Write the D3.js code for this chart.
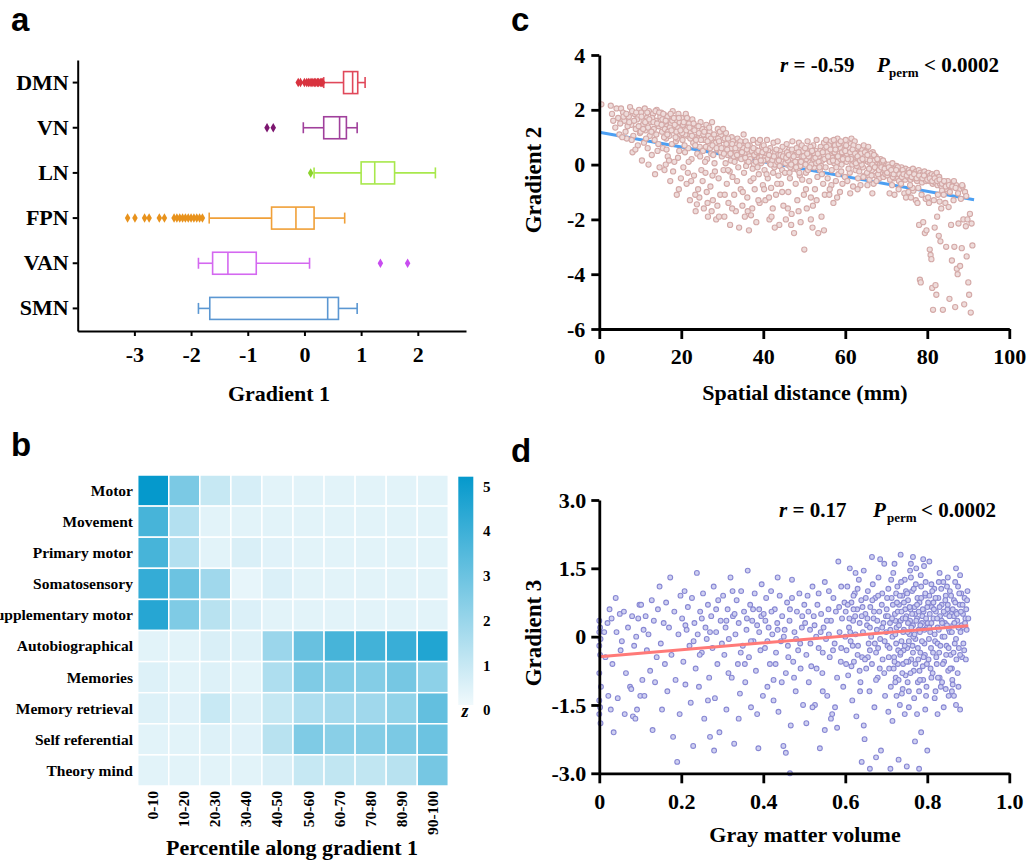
<!DOCTYPE html>
<html lang="en">
<head>
    <meta charset="UTF-8">
    <title>gradients figure</title>
    <script type="text/javascript" src="https://d3js.org/d3.v7.min.js"></script>
    <style>
        body { margin: 0; background: #fff; }
    </style>
</head>
<body>
<svg class="fig"></svg>

<script type="text/javascript">

    const width = 1033;
    const height = 863;
    const SERIF = "'Liberation Serif', 'Times New Roman', serif";
    const SANS = "'Liberation Sans', Arial, sans-serif";

    // ---- panel a : box plots of gradient 1 per network ----
    const networks = ["DMN", "VN", "LN", "FPN", "VAN", "SMN"];
    const whiskerLow = [0.34, -0.02, 0.17, -1.68, -1.87, -1.87];
    const quart1 = [0.69, 0.34, 1.0, -0.58, -1.62, -1.67];
    const medians = [0.85, 0.62, 1.24, -0.15, -1.35, 0.41];
    const quart3 = [0.94, 0.74, 1.59, 0.17, -0.85, 0.6];
    const whiskerHigh = [1.07, 0.93, 2.31, 0.71, 0.09, 0.93];
    const outliers = [
        [-0.11, -0.07, 0.0, 0.04, 0.07, 0.1, 0.13, 0.15, 0.18, 0.2, 0.23, 0.25, 0.28, 0.3, 0.32],
        [-0.66, -0.55],
        [0.11],
        [-3.12, -2.99, -2.82, -2.74, -2.56, -2.47, -2.3, -2.25, -2.2, -2.15, -2.1, -2.05, -2.0, -1.95, -1.9, -1.85, -1.8],
        [1.34, 1.82],
        []
    ];
    const gradTicks = [-3, -2, -1, 0, 1, 2];
    const netColors = ["#e0485a", "#a0409c", "#a8e84c", "#f0a038", "#d468f0", "#5b97d2"];
    const outColors = ["#d8333f", "#7c1670", "#8cd42c", "#e8921c", "#c84cf0", "#5b97d2"];

    // ---- panel b : heatmap of z-values ----
    const tasks = ["Motor", "Movement", "Primary motor", "Somatosensory", "Supplementary motor",
        "Autobiographical", "Memories", "Memory retrieval", "Self referential", "Theory mind"];
    const percentiles = ["0-10", "10-20", "20-30", "30-40", "40-50", "50-60", "60-70", "70-80", "80-90", "90-100"];
    const zValues = [
        [5.0, 2.5, 0.9, 0.55, 0.3, 0.3, 0.3, 0.3, 0.3, 0.3],
        [3.6, 1.3, 0.3, 0.3, 0.3, 0.3, 0.3, 0.3, 0.3, 0.3],
        [3.6, 1.3, 0.3, 0.5, 0.35, 0.3, 0.3, 0.3, 0.3, 0.3],
        [4.0, 2.8, 1.7, 0.2, 0.45, 0.3, 0.3, 0.3, 0.3, 0.3],
        [4.3, 2.4, 1.2, 0.45, 0.3, 0.3, 0.3, 0.3, 0.3, 0.3],
        [0.3, 0.3, 0.5, 0.4, 1.8, 2.9, 3.6, 3.7, 3.9, 4.4],
        [0.4, 0.3, 0.4, 0.3, 1.4, 2.4, 2.3, 2.3, 2.6, 2.1],
        [0.4, 0.35, 0.85, 0.4, 0.9, 1.4, 1.6, 1.7, 2.0, 3.0],
        [0.3, 0.3, 0.4, 0.35, 1.2, 2.4, 2.2, 2.3, 2.5, 2.8],
        [0.3, 0.3, 0.3, 0.3, 0.5, 0.9, 1.0, 1.0, 1.2, 2.6]
    ];
    const zTicks = [0, 1, 2, 3, 4, 5];

    // ---- panel c : gradient 2 vs spatial distance ----
    const distTicks = [0, 20, 40, 60, 80, 100];
    const grad2Ticks = [-6, -4, -2, 0, 2, 4];
    const fitC = [[0, 1.18], [91.4, -1.28]];
    const pointsC = [
        [0.5,2.2],[2.8,2.15],[3.1,1.85],[3.4,1.6],[4.2,2.05],[4.6,1.7],[4.9,1.1],[3.9,1.35],
        [5.3,2.05],[5.8,1.9],[6.1,1.6],[6.4,1.2],[6.7,0.95],[7.2,1.75],[7.5,2.1],[7.8,1.45],[8.1,0.45],[8.3,1.05],[8.6,1.85],[8.9,1.3],[9.2,1.65],[9.4,0.7],[9.7,2.0],[9.9,1.15],[6.9,1.4],[5.6,1.0],[7.9,0.9],[8.8,0.55],
        [10.2,1.9],[10.4,0.15],[10.6,1.45],[10.9,0.8],[11.1,2.05],[11.3,1.25],[11.6,1.7],[11.8,0.6],[12.1,1.95],[12.3,1.05],[12.6,1.55],[12.8,0.35],[13.1,1.85],[13.3,1.3],[13.5,0.9],[13.8,1.6],[14.0,2.0],[14.2,0.5],[14.5,1.4],[14.7,-0.1],[14.9,1.75],[10.8,1.6],[11.9,1.35],[12.9,1.7],[13.9,1.1],[14.4,0.75],[12.0,0.0],[13.6,-0.35],[11.4,0.95],[10.1,1.2],
        [15.1,1.9],[15.3,1.2],[15.5,0.6],[15.7,1.55],[15.9,-0.2],[16.1,1.8],[16.3,0.95],[16.5,1.4],[16.7,0.3],[16.9,1.7],[17.1,1.05],[17.3,-0.6],[17.5,1.5],[17.7,0.75],[17.9,1.95],[18.1,1.25],[18.3,0.1],[18.5,1.6],[18.7,0.85],[18.9,-1.1],[19.1,1.35],[19.3,1.85],[19.5,0.5],[19.7,1.1],[19.9,-0.5],[15.4,1.65],[16.0,1.3],[16.6,1.75],[17.2,1.35],[17.8,1.6],[18.4,1.45],[19.0,0.95],[19.6,1.55],[16.4,0.55],[18.0,-0.25],[17.0,0.15],[15.8,1.0],[19.2,0.25],[16.8,1.2],[18.8,1.2],
        [20.1,1.7],[20.3,0.9],[20.5,-0.1],[20.7,1.3],[20.9,0.45],[21.1,1.85],[21.3,-0.7],[21.5,1.05],[21.7,0.6],[21.9,1.5],[22.1,-1.3],[22.3,1.2],[22.5,0.2],[22.7,1.65],[22.9,0.8],[23.1,-0.4],[23.3,1.0],[23.5,-1.7],[23.7,1.4],[23.9,0.4],[24.1,-0.9],[24.3,1.15],[24.5,0.65],[24.7,1.55],[24.9,-0.2],[20.4,1.45],[21.0,1.1],[21.6,1.35],[22.2,0.95],[22.8,1.3],[23.4,0.7],[24.0,0.95],[24.6,0.3],[20.8,0.7],[22.4,-0.6],[23.8,-1.45],[21.8,0.1],[23.0,1.5],[24.4,-1.2],[20.2,1.15],
        [25.1,1.3],[25.3,0.5],[25.5,-1.6],[25.7,0.9],[25.9,-0.3],[26.1,1.45],[26.3,0.2],[26.5,-1.9],[26.7,0.75],[26.9,1.2],[27.1,-0.8],[27.3,0.4],[27.5,1.55],[27.7,-1.3],[27.9,0.85],[28.1,0.05],[28.3,1.0],[28.5,-2.0],[28.7,0.55],[28.9,1.3],[29.1,-0.5],[29.3,0.7],[29.5,-1.1],[29.7,1.05],[29.9,0.3],[25.4,1.1],[26.0,0.65],[26.6,1.05],[27.2,0.95],[27.8,0.35],[28.4,0.8],[29.0,0.95],[29.6,0.45],[26.2,-1.0],[27.4,-1.7],[28.8,-1.5],[25.8,0.1],[29.4,1.2],[28.2,-0.25],[27.0,0.6],
        [30.1,0.9],[30.3,-0.2],[30.5,-1.9],[30.7,0.6],[30.9,1.15],[31.1,-0.7],[31.3,0.35],[31.5,-1.4],[31.7,0.8],[31.9,-2.2],[32.1,0.15],[32.3,1.0],[32.5,-0.45],[32.7,0.55],[32.9,-1.1],[33.1,0.75],[33.3,-1.7],[33.5,0.25],[33.7,0.95],[33.9,-0.1],[34.1,-2.3],[34.3,0.5],[34.5,-0.9],[34.7,0.7],[34.9,-1.5],[30.4,0.4],[31.0,0.75],[31.6,0.5],[32.2,0.6],[32.8,0.3],[33.4,0.45],[34.0,0.3],[34.6,0.2],[30.8,0.05],[31.8,-0.25],[33.0,0.1],[34.4,0.85],[32.6,0.85],[30.2,1.3],[33.8,0.6],
        [35.1,0.6],[35.3,-0.3],[35.5,-1.9],[35.7,0.85],[35.9,0.15],[36.1,-1.2],[36.3,0.45],[36.5,-2.4],[36.7,0.7],[36.9,-0.6],[37.1,0.3],[37.3,-1.6],[37.5,0.9],[37.7,0.0],[37.9,-0.9],[38.1,0.55],[38.3,-2.1],[38.5,0.2],[38.7,0.8],[38.9,-0.35],[39.1,-1.4],[39.3,0.4],[39.5,0.05],[39.7,0.65],[39.9,-0.75],[35.4,0.4],[36.0,0.55],[36.6,0.3],[37.2,0.5],[37.8,0.35],[38.4,0.45],[39.0,0.25],[39.6,0.3],[35.8,-0.05],[37.4,-0.15],[38.6,-0.1],[36.8,0.2],[39.2,0.9],[35.2,1.1],[37.0,-1.85],
        [40.1,0.7],[40.3,-0.2],[40.5,-1.3],[40.7,0.4],[40.9,0.9],[41.1,-0.5],[41.3,0.15],[41.5,-2.0],[41.7,0.6],[41.9,-0.85],[42.1,0.3],[42.3,-1.6],[42.5,0.8],[42.7,-0.1],[42.9,0.45],[43.1,-1.1],[43.3,0.2],[43.5,0.85],[43.7,-0.4],[43.9,-2.2],[44.1,0.5],[44.3,-0.7],[44.5,0.1],[44.7,0.65],[44.9,-1.5],[40.4,0.25],[41.0,0.2],[41.6,0.05],[42.2,0.15],[42.8,0.0],[43.4,0.1],[44.0,-0.05],[44.6,-0.2],[40.8,-0.35],[42.4,-0.3],[43.6,0.35],[44.2,0.35],[41.2,0.5],[42.0,-1.9],[40.0,0.15],
        [45.1,0.4],[45.3,-0.3],[45.5,-2.0],[45.7,0.75],[45.9,0.0],[46.1,-1.0],[46.3,0.55],[46.5,-0.5],[46.7,0.2],[46.9,-1.8],[47.1,0.85],[47.3,-0.15],[47.5,-2.5],[47.7,0.35],[47.9,-0.7],[48.1,0.6],[48.3,-1.3],[48.5,0.1],[48.7,0.8],[48.9,-0.4],[49.1,-2.1],[49.3,0.3],[49.5,-0.55],[49.7,0.5],[49.9,-1.1],[45.4,0.05],[46.0,0.15],[46.6,-0.1],[47.2,0.05],[47.8,0.1],[48.4,-0.2],[49.0,-0.05],[49.6,0.15],[45.8,0.45],[47.0,0.55],[48.2,0.35],[49.4,0.7],[46.4,-0.3],[48.8,-0.3],[50.0,-3.1],
        [50.2,0.6],[50.4,-0.3],[50.6,-1.6],[50.8,0.85],[51.0,0.1],[51.2,-0.6],[51.4,0.45],[51.6,-1.2],[51.8,0.25],[52.0,-2.3],[52.2,0.7],[52.4,-0.1],[52.6,-0.9],[52.8,0.5],[53.0,0.9],[53.2,-0.45],[53.4,-2.5],[53.6,0.3],[53.8,-0.2],[54.0,0.65],[54.2,-1.9],[54.4,0.15],[54.6,-0.7],[54.8,0.8],[55.0,-1.1],[50.5,0.2],[51.1,0.3],[51.7,0.0],[52.3,0.2],[52.9,0.05],[53.5,0.1],[54.1,-0.05],[54.7,0.35],[50.9,-0.2],[52.5,0.4],[53.9,0.5],[51.5,0.65],[54.3,-0.35],[55.0,0.55],[52.1,-1.5],
        [55.3,0.9],[55.5,0.2],[55.7,-0.5],[55.9,0.6],[56.1,-1.1],[56.3,0.35],[56.5,0.85],[56.7,-0.2],[56.9,0.5],[57.1,-1.4],[57.3,0.05],[57.5,0.7],[57.7,-0.6],[57.9,0.3],[58.1,0.95],[58.3,-0.35],[58.5,0.15],[58.7,-1.0],[58.9,0.6],[59.1,0.0],[59.3,-0.7],[59.5,0.8],[59.7,0.25],[59.9,-0.45],[55.6,0.45],[56.2,0.1],[56.8,0.25],[57.4,0.45],[58.0,0.1],[58.6,0.4],[59.2,0.45],[59.8,0.55],[56.0,0.7],[57.2,0.9],[58.4,0.75],[55.2,-0.1],[57.8,-0.1],[59.0,-0.25],[56.6,-0.75],[58.8,0.2],
        [60.1,0.9],[60.3,0.1],[60.5,-0.6],[60.7,0.55],[60.9,0.3],[61.1,-0.3],[61.3,0.75],[61.5,0.95],[61.7,0.0],[61.9,-0.8],[62.1,0.45],[62.3,0.85],[62.5,-0.2],[62.7,0.2],[62.9,0.6],[63.1,-0.5],[63.3,0.1],[63.5,0.4],[63.7,-0.75],[63.9,0.25],[64.1,0.55],[64.3,-0.1],[64.5,0.7],[64.7,-0.4],[64.9,0.15],[60.4,0.4],[61.0,0.6],[61.6,0.35],[62.2,0.1],[62.8,-0.05],[63.4,-0.25],[64.0,0.0],[64.6,0.3],[60.8,-0.15],[62.0,0.7],[63.2,0.65],[64.4,-0.45],[61.4,0.2],[63.8,0.4],[60.2,0.7],
        [65.1,0.5],[65.3,-0.3],[65.5,0.1],[65.7,0.3],[65.9,-0.55],[66.1,0.05],[66.3,0.25],[66.5,-0.2],[66.7,0.45],[66.9,-0.7],[67.1,0.0],[67.3,0.2],[67.5,-0.4],[67.7,0.1],[67.9,-0.15],[68.1,0.15],[68.3,-0.5],[68.5,0.0],[68.7,-0.3],[68.9,0.1],[69.1,-0.1],[69.3,-0.45],[69.5,0.05],[69.7,-0.25],[69.9,-0.05],[65.6,0.65],[66.2,0.4],[66.8,0.15],[67.4,0.3],[68.0,-0.35],[68.6,0.2],[69.2,0.15],[69.8,-0.35],[66.4,-0.4],[67.6,-0.6],[68.4,-0.1],[65.2,0.2],[67.0,0.35],[69.4,-0.2],[65.8,-0.15],
        [70.1,-0.1],[70.3,-0.4],[70.5,0.0],[70.7,-0.25],[70.9,-0.55],[71.1,-0.1],[71.3,-0.35],[71.5,0.05],[71.7,-0.2],[71.9,-0.5],[72.1,-0.15],[72.3,-0.3],[72.5,-0.05],[72.7,-0.45],[72.9,-0.25],[73.1,-0.6],[73.3,-0.2],[73.5,-0.4],[73.7,-0.1],[73.9,-0.3],[74.1,-0.5],[74.3,-0.25],[74.5,-0.4],[74.7,-0.15],[74.9,-0.35],[70.4,-0.2],[71.0,-0.3],[71.6,-0.45],[72.2,-0.35],[72.8,-0.1],[73.4,-0.3],[74.0,-0.2],[74.6,-0.55],[70.8,-1.05],[72.0,-1.1],[73.0,-0.9],[74.4,-1.05],[71.4,-0.75],[73.6,-0.7],[74.8,-1.2],
        [75.1,-0.3],[75.3,-0.45],[75.5,-0.2],[75.7,-0.35],[75.9,-0.55],[76.1,-0.25],[76.3,-0.4],[76.5,-0.15],[76.7,-0.5],[76.9,-0.3],[77.1,-0.45],[77.3,-0.25],[77.5,-0.6],[77.7,-0.35],[77.9,-0.2],[78.1,-0.5],[78.3,-0.3],[78.5,-0.45],[78.7,-0.65],[78.9,-0.35],[79.1,-0.5],[79.3,-0.25],[79.5,-0.4],[79.7,-0.6],[79.9,-0.35],[75.4,-1.0],[76.0,-1.2],[76.6,-0.95],[77.2,-1.3],[77.6,-1.4],[78.0,-2.2],[78.2,-4.2],[78.4,-4.3],[78.6,-1.1],[79.0,-2.1],[79.4,-2.5],[79.6,-1.25],[76.4,-0.85],[75.8,-0.75],[77.8,-0.85],[79.8,-2.4],
        [80.1,-0.45],[80.3,-0.3],[80.5,-0.6],[80.7,-0.4],[80.9,-0.55],[81.1,-0.35],[81.3,-0.7],[81.5,-0.5],[81.7,-0.4],[81.9,-0.65],[82.1,-0.5],[82.3,-0.3],[82.5,-0.75],[82.7,-0.55],[82.9,-0.45],[83.1,-0.7],[83.3,-0.6],[83.5,-0.8],[80.2,-1.2],[80.4,-1.4],[80.6,-3.1],[80.8,-3.3],[81.0,-3.45],[81.2,-4.5],[81.4,-5.3],[81.6,-1.3],[81.8,-2.3],[82.0,-4.4],[82.2,-4.75],[82.4,-1.9],[82.6,-1.1],[82.8,-2.6],[83.0,-1.35],[83.2,-2.8],[83.4,-1.6],[83.6,-0.95],[83.8,-5.3],[84.0,-1.1],[84.2,-0.65],[84.4,-1.4],[84.6,-3.0],[84.8,-0.9],
        [85.0,-0.6],[85.2,-1.55],[85.4,-4.9],[85.6,-0.8],[85.8,-2.2],[86.0,-3.5],[86.2,-0.7],[86.4,-1.3],[86.6,-3.0],[86.8,-5.2],[87.0,-0.75],[87.2,-3.8],[87.4,-4.0],[87.6,-2.15],[87.8,-0.9],[88.0,-3.7],[88.2,-1.25],[88.4,-3.05],[88.6,-0.8],[88.8,-2.0],[89.0,-5.1],[89.2,-1.0],[89.4,-2.25],[89.6,-3.35],[89.8,-2.0],[90.0,-4.3],[90.2,-4.75],[90.4,-1.8],[90.6,-5.4],[90.8,-2.15],[91.0,-2.95],[85.5,-1.0],[86.5,-0.6],[87.5,-1.05],[88.5,-0.75],[89.5,-1.15]
    ];
    // the dense band along the trend, read as a second pass
    const pointsCband = [
        [5.1,1.5],[5.9,1.75],[6.6,1.85],[7.3,1.55],[8.0,1.95],[8.5,1.6],[9.0,1.9],[9.6,1.4],[10.3,1.75],[10.7,1.3],[11.2,1.55],[11.7,1.9],[12.2,1.65],[12.7,1.2],[13.2,1.55],[13.7,1.95],[14.1,1.5],[14.6,1.9],[15.2,1.45],[15.6,1.85],[16.2,1.6],[16.6,1.1],[17.4,1.85],[17.6,1.25],[18.2,1.7],[18.6,1.0],[19.4,1.7],[19.8,1.25],[20.6,1.55],[21.2,1.25],[21.4,1.7],[22.0,1.35],[22.6,1.05],[23.2,1.25],[23.6,0.9],[24.2,1.4],[24.8,0.9],[25.6,1.2],[26.4,0.85],[26.8,1.35],[27.6,0.7],[28.0,1.1],[28.6,0.6],[29.2,0.85],[29.8,0.6],[30.6,0.95],[31.2,0.55],[31.4,0.95],[32.0,0.4],[32.4,0.75],[33.2,0.6],[33.6,0.35],[34.2,0.7],[34.8,0.45],[35.6,0.25],[36.2,0.7],[36.4,0.1],[37.6,0.6],[38.2,0.1],[38.8,0.5],[39.4,0.15],[39.8,0.45],[40.6,0.55],[41.4,0.35],[41.8,0.0],[42.6,0.3],[43.2,0.55],[43.8,0.15],[44.8,0.3],[45.6,0.25],[46.2,0.35],[46.8,0.0],[47.4,0.3],[48.0,-0.1],[48.6,0.45],[49.2,0.1],[49.8,0.3],[50.3,0.0],[50.7,0.4],[51.3,-0.1],[51.9,0.5],[52.7,0.25],[53.3,0.4],[53.7,-0.1],[54.5,0.45],[54.9,0.2],[55.4,0.65],[55.8,0.3],[56.4,0.55],[57.0,0.15],[57.6,0.55],[58.2,0.3],[58.9,0.85],[59.4,0.2],[60.0,0.5],[60.6,0.2],[61.2,0.45],[61.8,0.55],[62.4,0.4],[62.6,0.05],[63.0,0.3],[63.6,0.15],[64.2,0.2],[64.8,0.45],[65.4,0.35],[66.0,0.15],[66.6,0.0],[67.2,-0.1],[67.8,0.2],[68.2,-0.2],[68.8,-0.1],[69.6,-0.15],[70.2,-0.3],[70.6,-0.1],[71.2,-0.2],[71.8,-0.35],[72.4,-0.2],[73.2,-0.35],[73.8,-0.45],[74.2,-0.35],[75.0,-0.4],[75.6,-0.3],[76.2,-0.45],[76.8,-0.35],[77.4,-0.5],[78.0,-0.4],[78.8,-0.5],[79.2,-0.4],[80.0,-0.55],[80.6,-0.5],[81.2,-0.6],[81.8,-0.5],[82.4,-0.6],[83.0,-0.55],[83.6,-0.7],[84.1,-0.6],[84.5,-0.8],[85.3,-0.75],[86.1,-0.8],[86.9,-0.85],
        [16.2,0.0],[19.4,-0.9],[21.6,-0.3],[23.4,-1.1],[25.2,-0.6],[26.4,-1.4],[27.6,-0.4],[29.2,-1.9],[30.6,-1.1],[31.4,-0.2],[32.4,-1.6],[33.6,-0.6],[35.0,-1.0],[36.2,-1.7],[37.6,-0.5],[38.8,-1.3],[40.2,-0.9],[41.4,-1.2],[42.8,-2.3],[43.4,-0.7],[44.6,-1.0],[46.0,-1.6],[46.8,-2.2],[48.6,-1.7],[50.4,-0.9],[51.6,-2.0],[53.0,-1.3],[54.8,-2.4],[56.2,-0.9],[58.0,-1.2],[61.2,-1.05],[63.0,-0.9],[65.4,-0.75],[66.6,-1.05]
    ];

    // ---- panel d : gradient 3 vs gray matter volume ----
    const gmvTicks = [0, 0.2, 0.4, 0.6, 0.8, 1.0];
    const grad3Ticks = [-3, -1.5, 0, 1.5, 3];
    const fitD = [[0, -0.44], [0.9, 0.24]];
    const pointsD = [
        [0.0,0.35],[0.002,0.2],[0.0,0.1],[0.003,-0.05],[0.0,-0.2],[0.002,-0.4],[0.0,-0.8],[0.004,-1.1],[0.0,-1.4],[0.002,-1.55],[0.0,-1.7],[0.003,-1.9],
        [0.012,0.1],[0.015,-0.45],[0.02,0.3],[0.022,-1.3],[0.025,0.6],[0.028,-1.6],[0.03,0.4],[0.032,-0.6],[0.035,-2.1],[0.04,0.85],[0.042,0.1],[0.045,-1.35],[0.05,0.5],[0.052,-0.3],[0.055,-0.1],[0.06,0.55],[0.062,-1.7],[0.065,-0.8],[0.07,0.2],[0.075,-1.1],[0.078,-1.15],[0.08,0.45],[0.082,-1.75],[0.085,-0.2],[0.088,-1.8],[0.09,0.0],[0.092,-1.6],[0.095,0.4],[0.098,0.7],[0.1,-1.3],
        [0.102,0.7],[0.105,-0.95],[0.108,0.15],[0.11,-1.3],[0.113,0.45],[0.116,-0.3],[0.12,0.05],[0.124,-0.75],[0.128,0.8],[0.13,-2.05],[0.133,0.35],[0.136,-1.0],[0.14,-0.45],[0.143,0.6],[0.147,1.1],[0.15,-0.15],[0.153,-1.6],[0.157,0.3],[0.16,-0.6],[0.163,0.75],[0.166,-1.2],[0.17,0.2],[0.173,1.3],[0.176,-0.4],[0.18,-2.2],[0.183,0.55],[0.186,-0.95],[0.19,-2.75],[0.193,0.05],[0.196,-1.7],[0.198,0.9],
        [0.202,0.4],[0.205,-0.55],[0.208,1.0],[0.21,-1.05],[0.213,0.15],[0.216,0.65],[0.22,-0.2],[0.223,-1.45],[0.226,0.85],[0.229,-2.4],[0.232,0.3],[0.235,-0.7],[0.238,1.4],[0.24,0.05],[0.243,-1.1],[0.246,0.55],[0.25,-0.35],[0.253,0.95],[0.256,-1.8],[0.259,0.2],[0.262,-0.05],[0.265,0.7],[0.268,-0.9],[0.27,-2.2],[0.273,0.45],[0.276,-0.25],[0.279,1.1],[0.282,-1.35],[0.285,0.1],[0.288,-0.6],[0.29,0.8],[0.293,-2.1],[0.296,0.35],[0.299,-0.15],[0.21,0.25],[0.23,-0.1],[0.25,0.4],[0.27,0.1],[0.285,0.6],[0.245,-0.4],[0.265,-1.4],[0.28,-2.5],
        [0.302,0.9],[0.305,-0.4],[0.308,0.2],[0.31,-1.6],[0.313,0.6],[0.316,-0.05],[0.32,1.3],[0.323,-0.9],[0.326,0.45],[0.329,-2.35],[0.332,0.05],[0.335,0.8],[0.338,-0.6],[0.34,0.3],[0.343,-1.25],[0.346,1.0],[0.35,-0.2],[0.353,0.55],[0.356,-1.0],[0.359,0.15],[0.362,1.45],[0.365,-0.45],[0.368,0.7],[0.37,-1.55],[0.373,0.35],[0.376,-0.1],[0.379,0.95],[0.382,-0.75],[0.385,0.25],[0.388,-2.45],[0.39,0.6],[0.393,-0.3],[0.396,1.15],[0.399,-1.3],[0.31,0.35],[0.33,0.5],[0.345,-0.35],[0.36,0.4],[0.375,0.6],[0.39,0.1],[0.315,-0.8],[0.355,-0.6],[0.37,-0.1],[0.385,-1.7],[0.34,-1.8],[0.325,1.0],[0.395,0.45],
        [0.401,0.5],[0.404,-0.25],[0.407,0.85],[0.41,-1.1],[0.413,0.2],[0.416,-0.6],[0.419,1.0],[0.422,0.05],[0.425,-1.4],[0.428,0.6],[0.431,-0.35],[0.434,0.3],[0.437,-1.65],[0.44,0.9],[0.443,-0.1],[0.446,0.45],[0.449,-2.4],[0.452,0.15],[0.455,-0.8],[0.458,0.75],[0.461,-0.45],[0.464,0.35],[0.467,-1.95],[0.47,0.85],[0.473,-0.55],[0.476,0.1],[0.479,-1.2],[0.482,0.55],[0.485,-0.3],[0.488,0.95],[0.491,-0.7],[0.494,0.2],[0.497,-1.5],[0.5,0.7],[0.405,0.35],[0.42,0.55],[0.435,0.15],[0.45,0.0],[0.465,0.6],[0.48,-0.05],[0.495,0.45],[0.41,-0.1],[0.43,-0.6],[0.445,-1.0],[0.46,-0.2],[0.475,-0.9],[0.49,-0.15],[0.455,-2.55],[0.465,-3.0],[0.435,1.3],[0.47,1.25],[0.425,-0.95],
        [0.502,0.3],[0.505,-0.4],[0.508,0.9],[0.511,-1.0],[0.514,0.15],[0.517,-0.65],[0.52,1.1],[0.523,0.45],[0.526,-1.5],[0.529,0.0],[0.532,0.7],[0.535,-0.25],[0.538,-2.45],[0.541,0.5],[0.544,-0.8],[0.547,0.2],[0.55,1.2],[0.553,-0.05],[0.556,-1.3],[0.559,0.6],[0.562,-0.45],[0.565,0.35],[0.568,-1.7],[0.571,0.85],[0.574,-0.15],[0.577,0.55],[0.58,-0.9],[0.583,1.65],[0.586,0.1],[0.589,-0.55],[0.592,0.4],[0.595,-1.1],[0.598,0.75],[0.51,0.55],[0.525,0.25],[0.54,0.1],[0.555,0.35],[0.57,-0.3],[0.585,0.65],[0.6,0.0],[0.515,-0.15],[0.53,-0.7],[0.545,-0.35],[0.56,0.05],[0.575,-1.55],[0.59,-0.25],[0.52,-1.55],[0.55,-2.05],[0.565,-1.8],[0.58,-2.0],[0.535,0.95],[0.56,1.0],[0.59,1.1],[0.505,-1.9],[0.545,-1.2],
        [0.601,0.55],[0.603,-0.3],[0.605,1.1],[0.607,-0.85],[0.609,0.2],[0.611,1.5],[0.613,-0.1],[0.615,0.75],[0.617,-1.4],[0.619,0.35],[0.621,-0.55],[0.623,0.95],[0.625,0.05],[0.627,-1.75],[0.629,0.6],[0.631,-0.2],[0.633,1.25],[0.635,0.3],[0.637,-1.0],[0.639,0.8],[0.641,-0.45],[0.643,0.1],[0.645,1.45],[0.647,-2.25],[0.649,0.5],[0.651,-0.7],[0.653,0.25],[0.655,1.0],[0.657,-0.15],[0.659,-1.2],[0.661,0.65],[0.663,0.0],[0.665,-0.6],[0.667,1.15],[0.669,0.4],[0.671,-1.55],[0.673,0.85],[0.675,-0.35],[0.677,0.15],[0.679,-0.9],[0.681,1.3],[0.683,0.55],[0.685,-0.05],[0.687,-2.5],[0.689,0.7],[0.691,-0.5],[0.693,0.3],[0.695,1.6],[0.697,-1.3],[0.699,0.45],
        [0.61,0.4],[0.62,0.6],[0.63,-0.4],[0.64,0.45],[0.65,0.85],[0.66,0.2],[0.67,0.55],[0.68,-0.25],[0.69,0.95],[0.7,0.1],[0.615,-0.65],[0.635,-0.75],[0.655,-0.45],[0.675,-0.95],[0.695,-0.8],[0.625,1.4],[0.665,1.75],[0.685,1.7],[0.645,-1.95],[0.66,-2.9],[0.675,-2.65],[0.64,-2.75],[0.62,0.9],[0.68,0.9],
        [0.701,0.6],[0.703,-0.2],[0.705,1.05],[0.707,-0.7],[0.709,0.3],[0.711,-1.1],[0.713,0.85],[0.715,0.0],[0.717,1.4],[0.719,-0.45],[0.721,0.5],[0.723,-0.9],[0.725,0.2],[0.727,1.1],[0.729,-0.3],[0.731,0.7],[0.733,-1.5],[0.735,0.35],[0.737,-0.1],[0.739,0.9],[0.741,-0.6],[0.743,0.15],[0.745,1.25],[0.747,-0.85],[0.749,0.45],[0.751,-0.25],[0.753,0.8],[0.755,-1.2],[0.757,0.05],[0.759,0.6],[0.761,-0.5],[0.763,1.0],[0.765,0.25],[0.767,-0.75],[0.769,0.65],[0.771,-0.05],[0.773,1.5],[0.775,0.4],[0.777,-1.0],[0.779,0.15],[0.781,0.75],[0.783,-0.35],[0.785,1.1],[0.787,0.3],[0.789,-0.65],[0.791,0.55],[0.793,-0.15],[0.795,0.9],[0.797,-1.3],[0.799,0.2],
        [0.704,0.45],[0.71,0.15],[0.716,0.7],[0.722,0.05],[0.728,0.55],[0.734,-0.4],[0.74,0.4],[0.746,0.6],[0.752,0.1],[0.758,0.35],[0.764,-0.2],[0.77,0.5],[0.776,0.85],[0.782,0.1],[0.788,0.45],[0.794,-0.4],[0.8,0.65],[0.706,-0.45],[0.718,-0.7],[0.73,-0.95],[0.742,-0.3],[0.754,-0.55],[0.766,0.0],[0.778,-0.5],[0.79,-0.95],[0.712,1.25],[0.724,0.95],[0.736,1.2],[0.748,1.0],[0.76,1.3],[0.772,1.15],[0.784,1.35],[0.796,1.2],
        [0.705,-1.65],[0.715,-1.85],[0.725,-1.3],[0.735,1.8],[0.745,-1.7],[0.755,-1.55],[0.765,1.75],[0.775,-1.7],[0.785,-2.1],[0.795,-1.6],[0.71,-2.9],[0.73,-2.7],[0.75,-2.85],[0.77,-2.3],[0.78,-2.9],[0.72,1.6],[0.76,1.6],[0.79,1.7],[0.78,-1.2],[0.74,-1.15],
        [0.801,0.3],[0.803,-0.5],[0.805,0.9],[0.807,0.1],[0.809,-0.25],[0.811,0.65],[0.813,-0.8],[0.815,0.4],[0.817,1.05],[0.819,-0.1],[0.821,0.55],[0.823,-0.6],[0.825,0.2],[0.827,0.85],[0.829,-0.35],[0.831,0.45],[0.833,-1.1],[0.835,0.7],[0.837,0.0],[0.839,1.2],[0.841,-0.55],[0.843,0.3],[0.845,0.9],[0.847,-0.2],[0.849,0.6],[0.851,-0.75],[0.853,0.15],[0.855,1.0],[0.857,-0.4],[0.859,0.5],[0.861,-0.95],[0.863,0.25],[0.865,0.8],[0.867,-0.15],[0.869,0.55],[0.871,-0.5],[0.873,0.35],[0.875,1.1],[0.877,-0.25],[0.879,0.7],[0.881,0.1],[0.883,0.95],[0.885,-0.45],[0.887,0.5],[0.889,0.2],[0.891,0.85],[0.893,0.4],[0.895,0.6],[0.897,0.8],[0.9,0.4],
        [0.805,0.2],[0.815,0.75],[0.825,-0.15],[0.835,0.35],[0.845,0.5],[0.855,0.1],[0.865,0.45],[0.81,1.15],[0.83,1.4],[0.85,1.3],[0.87,1.5],[0.88,1.35],[0.82,-1.2],[0.84,-1.55],[0.86,-1.2],[0.87,-1.5],[0.88,-1.6],[0.825,-1.7],[0.845,-1.15],[0.865,-1.3],[0.83,-0.9],[0.86,-0.7],[0.89,-0.3],[0.805,1.65],[0.81,-0.9],[0.8,-2.5]
    ];
    // the dense cluster at high gray matter volume, read as a second pass
    const pointsDcluster = [
        [0.722,0.35],[0.724,-0.15],[0.726,0.75],[0.728,-0.6],[0.731,0.25],[0.733,0.9],[0.735,-0.35],[0.737,0.55],[0.739,-0.8],[0.741,0.1],[0.743,0.75],[0.745,-0.2],[0.747,0.4],[0.749,-0.55],[0.751,0.95],[0.753,0.3],[0.755,-0.1],[0.757,0.65],[0.759,-0.8],[0.761,0.2],[0.763,0.5],[0.765,-0.35],[0.767,1.05],[0.769,0.05],[0.771,-0.6],[0.773,0.35],[0.775,0.7],[0.777,-0.25],[0.779,0.55],[0.781,-0.75],[0.783,0.25],[0.785,0.85],[0.787,-0.1],[0.789,0.6],[0.791,-0.45],[0.793,0.15],[0.795,0.95],[0.797,0.4],[0.799,-0.6],[0.802,0.75],[0.804,-0.05],[0.806,0.5],[0.808,-0.7],[0.81,0.3],[0.812,1.0],[0.814,-0.35],[0.816,0.6],[0.818,0.05],[0.82,0.85],[0.822,-0.45],[0.824,0.4],[0.826,-0.9],[0.828,0.15],[0.83,0.65],[0.832,-0.2],[0.834,1.05],[0.836,0.3],[0.838,-0.6],[0.84,0.55],[0.842,0.0],[0.844,0.8],[0.846,-0.4],[0.848,0.25],[0.85,0.7],[0.852,-0.25],[0.854,0.45],[0.856,-0.7],[0.858,0.9],[0.86,0.1],[0.862,0.6],[0.864,-0.35],[0.866,0.3],[0.868,0.75],[0.87,-0.05],[0.872,0.5],[0.874,-0.8],[0.876,0.2],[0.878,0.95],[0.88,-0.4],[0.882,0.55],[0.884,0.25],[0.886,0.7],[0.888,-0.15],[0.892,0.3],[0.894,-0.5],[0.896,0.15],[0.898,1.0],
        [0.602,-0.6],[0.606,0.7],[0.612,0.1],[0.618,-0.2],[0.624,0.45],[0.63,1.05],[0.636,-1.2],[0.642,0.65],[0.648,-0.5],[0.654,0.4],[0.66,-0.3],[0.666,0.8],[0.672,-0.15],[0.678,0.35],[0.684,-0.7],[0.69,0.2],[0.696,-0.1],[0.702,0.85],[0.708,-0.25],[0.714,0.4],[0.72,-0.55],
        [0.738,-1.25],[0.752,-1.0],[0.768,-1.35],[0.782,-0.95],[0.798,-1.1],[0.818,-1.35],[0.836,-1.0],[0.852,-1.3],[0.862,-1.05],[0.876,-1.1],[0.722,-1.0],[0.758,1.45],[0.792,1.55],[0.828,1.2],[0.848,1.1],[0.868,1.2]
    ];

    let svg = d3.select(".fig")
        .attr("width", width)
        .attr("height", height);

    function styleAxis(g, strokeW, fontSize) {
        g.select(".domain").attr("stroke", "#000").attr("stroke-width", strokeW);
        g.selectAll(".tick line").attr("stroke", "#000").attr("stroke-width", strokeW);
        g.selectAll(".tick text")
            .attr("font-family", SERIF)
            .attr("font-weight", "bold")
            .attr("font-size", fontSize)
            .attr("fill", "#000");
    }

    function boldText(parent, x, y, str, size) {
        return parent.append("text")
            .attr("x", x).attr("y", y)
            .attr("font-family", SERIF)
            .attr("font-weight", "bold")
            .attr("font-size", size)
            .attr("fill", "#000")
            .text(str);
    }

    function panelLetter(x, y, s) {
        svg.append("text")
            .attr("x", x).attr("y", y)
            .attr("font-family", SANS)
            .attr("font-weight", "bold")
            .attr("font-size", 33)
            .text(s);
    }

    drawBoxes();
    drawHeatmap();
    drawScatter(pointsC.concat(pointsCband), fitC, {
        xDomain: [0, 100], yDomain: [-6, 4], xRange: [599.3, 1009.3], yRange: [329, 55],
        xTicks: distTicks, yTicks: grad2Ticks, fmtY: d => String(d), fmtX: d => String(d),
        xPad: 9, yPad: 6, r: 2.6,
        xTitle: "Spatial distance (mm)", xTitleY: 400, yTitle: "Gradient 2", yTitleY: 180,
        stroke: "#d4a9a7", fill: "#eedcdb", line: "#4c9ff2", lineOnTop: false,
        stat: "-0.59", statX: [780, 877, 889, 924], statY: 72
    });
    drawScatter(pointsD.concat(pointsDcluster), fitD, {
        xDomain: [0, 1], yDomain: [-3, 3], xRange: [599.3, 1009.3], yRange: [773.3, 500],
        xTicks: gmvTicks, yTicks: grad3Ticks,
        fmtY: d => d === 0 ? "0" : d.toFixed(1), fmtX: d => d === 0 ? "0" : d.toFixed(1),
        xPad: 10, yPad: 5, r: 2.4,
        xTitle: "Gray matter volume", xTitleY: 842, yTitle: "Gradient 3", yTitleY: 633,
        stroke: "#8787d3", fill: "#cfd0f1", line: "#ff7a78", lineOnTop: true,
        stat: "0.17", statX: [779, 873, 887, 921], statY: 517
    });

    panelLetter(11, 31, "a");
    panelLetter(11, 456, "b");
    panelLetter(511, 31, "c");
    panelLetter(511, 462, "d");

    function drawBoxes() {
        let g = svg.append("g");
        let x = d3.scaleLinear().domain([-4, 2.85]).range([77.7, 466]);
        let y = d3.scaleBand().domain(networks).range([60, 331]);

        let xAxis = g.append("g")
            .attr("transform", "translate(0,331)")
            .call(d3.axisBottom(x).tickValues(gradTicks).tickSize(5).tickPadding(10)
                .tickSizeOuter(0).tickFormat(d => String(d)));
        styleAxis(xAxis, 2, 22);

        let yAxis = g.append("g")
            .attr("transform", "translate(77.7,0)")
            .call(d3.axisLeft(y).tickSize(5).tickPadding(4).tickSizeOuter(0));
        styleAxis(yAxis, 2, 22);

        let boxH = 22, capH = 11;
        networks.forEach(function (n, i) {
            let cy = y(n) + y.bandwidth() / 2;
            let col = netColors[i];
            let bg = g.append("g")
                .attr("stroke", col)
                .attr("stroke-width", 1.6)
                .attr("fill", "none");
            bg.append("line").attr("x1", x(whiskerLow[i])).attr("x2", x(quart1[i])).attr("y1", cy).attr("y2", cy);
            bg.append("line").attr("x1", x(quart3[i])).attr("x2", x(whiskerHigh[i])).attr("y1", cy).attr("y2", cy);
            bg.append("line").attr("x1", x(whiskerLow[i])).attr("x2", x(whiskerLow[i]))
                .attr("y1", cy - capH / 2).attr("y2", cy + capH / 2);
            bg.append("line").attr("x1", x(whiskerHigh[i])).attr("x2", x(whiskerHigh[i]))
                .attr("y1", cy - capH / 2).attr("y2", cy + capH / 2);
            bg.append("rect")
                .attr("x", x(quart1[i])).attr("y", cy - boxH / 2)
                .attr("width", x(quart3[i]) - x(quart1[i])).attr("height", boxH)
                .attr("fill", "#fff");
            bg.append("line").attr("x1", x(medians[i])).attr("x2", x(medians[i]))
                .attr("y1", cy - boxH / 2).attr("y2", cy + boxH / 2);

            g.selectAll(null).data(outliers[i]).enter().append("path")
                .attr("d", d3.symbol(d3.symbolDiamond, 26))
                .attr("transform", d => "translate(" + x(d) + "," + cy + ")")
                .attr("fill", outColors[i]);
        });

        g.append("text")
            .attr("x", 279).attr("y", 401)
            .attr("text-anchor", "middle")
            .attr("font-family", SERIF).attr("font-weight", "bold").attr("font-size", 22)
            .text("Gradient 1");
    }

    function drawHeatmap() {
        let g = svg.append("g");
        let x = d3.scaleBand().domain(percentiles).range([137.7, 448.3]);
        let y = d3.scaleBand().domain(tasks).range([475, 786]);
        let color = d3.scaleLinear().domain([0, 5]).range(["#f0f9fc", "#0599cc"]);

        let cells = [];
        zValues.forEach((row, r) => row.forEach((v, c) => cells.push({r: tasks[r], c: percentiles[c], v: v})));

        g.selectAll("rect.cell").data(cells).enter().append("rect")
            .attr("class", "cell")
            .attr("x", d => x(d.c))
            .attr("y", d => y(d.r))
            .attr("width", x.bandwidth())
            .attr("height", y.bandwidth())
            .attr("fill", d => color(d.v))
            .attr("stroke", "#fff")
            .attr("stroke-width", 1.5);

        g.selectAll("text.row").data(tasks).enter().append("text")
            .attr("class", "row")
            .attr("x", 133)
            .attr("y", d => y(d) + y.bandwidth() / 2)
            .attr("dy", "0.35em")
            .attr("text-anchor", "end")
            .attr("font-family", SERIF).attr("font-weight", "bold").attr("font-size", 15.5)
            .text(d => d);

        g.selectAll("text.col").data(percentiles).enter().append("text")
            .attr("class", "col")
            .attr("transform", d => "translate(" + (x(d) + x.bandwidth() / 2 + 5) + ",791) rotate(-90)")
            .attr("text-anchor", "end")
            .attr("font-family", SERIF).attr("font-weight", "bold").attr("font-size", 15.5)
            .text(d => d);

        g.append("text")
            .attr("x", 292).attr("y", 855)
            .attr("text-anchor", "middle")
            .attr("font-family", SERIF).attr("font-weight", "bold").attr("font-size", 22)
            .text("Percentile along gradient 1");

        // colour bar
        let grad = svg.append("defs").append("linearGradient")
            .attr("id", "zbar").attr("x1", 0).attr("y1", 1).attr("x2", 0).attr("y2", 0);
        grad.append("stop").attr("offset", "0%").attr("stop-color", color(0));
        grad.append("stop").attr("offset", "100%").attr("stop-color", color(5));
        g.append("rect")
            .attr("x", 458.3).attr("y", 476.7).attr("width", 15).attr("height", 228.3)
            .attr("fill", "url(#zbar)");

        let zScale = d3.scaleLinear().domain([0, 5]).range([710, 486.5]);
        g.selectAll("text.z").data(zTicks).enter().append("text")
            .attr("class", "z")
            .attr("x", 483)
            .attr("y", d => zScale(d))
            .attr("dy", "0.35em")
            .attr("font-family", SERIF).attr("font-weight", "bold").attr("font-size", 15)
            .text(d => d);

        g.append("text")
            .attr("x", 465).attr("y", 717)
            .attr("text-anchor", "middle")
            .attr("font-family", SERIF).attr("font-weight", "bold").attr("font-style", "italic")
            .attr("font-size", 18)
            .text("z");
    }

    function drawScatter(points, fit, o) {
        let g = svg.append("g");
        let x = d3.scaleLinear().domain(o.xDomain).range(o.xRange);
        let y = d3.scaleLinear().domain(o.yDomain).range(o.yRange);

        let lineGen = d3.line().x(d => x(d[0])).y(d => y(d[1]));

        function drawFit() {
            g.append("path")
                .datum(fit)
                .attr("d", lineGen)
                .attr("stroke", o.line)
                .attr("stroke-width", 3)
                .attr("fill", "none");
        }

        if (!o.lineOnTop) drawFit();

        g.selectAll("circle").data(points).enter().append("circle")
            .attr("cx", d => x(d[0]))
            .attr("cy", d => y(d[1]))
            .attr("r", o.r)
            .attr("fill", o.fill)
            .attr("stroke", o.stroke)
            .attr("stroke-width", 1.1);

        if (o.lineOnTop) drawFit();

        let xAxis = g.append("g")
            .attr("transform", "translate(0," + o.yRange[0] + ")")
            .call(d3.axisBottom(x).tickValues(o.xTicks).tickSize(10).tickPadding(o.xPad)
                .tickSizeOuter(0).tickFormat(o.fmtX));
        styleAxis(xAxis, 2.8, 22);

        let yAxis = g.append("g")
            .attr("transform", "translate(" + o.xRange[0] + ",0)")
            .call(d3.axisLeft(y).tickValues(o.yTicks).tickSize(8).tickPadding(o.yPad)
                .tickSizeOuter(0).tickFormat(o.fmtY));
        styleAxis(yAxis, 2.8, 22);

        g.append("text")
            .attr("x", 805).attr("y", o.xTitleY)
            .attr("text-anchor", "middle")
            .attr("font-family", SERIF).attr("font-weight", "bold").attr("font-size", 22)
            .text(o.xTitle);

        g.append("text")
            .attr("transform", "translate(541," + o.yTitleY + ") rotate(-90)")
            .attr("text-anchor", "middle")
            .attr("font-family", SERIF).attr("font-weight", "bold").attr("font-size", 23)
            .text(o.yTitle);

        // statistics annotation
        let t = boldText(g, o.statX[0], o.statY, "", 21);
        t.append("tspan").attr("font-style", "italic").text("r");
        t.append("tspan").text(" = " + o.stat);
        boldText(g, o.statX[1], o.statY, "P", 21).attr("font-style", "italic");
        boldText(g, o.statX[2], o.statY + 5, "perm", 13);
        boldText(g, o.statX[3], o.statY, "< 0.0002", 21);
    }

</script>

</body>
</html>
